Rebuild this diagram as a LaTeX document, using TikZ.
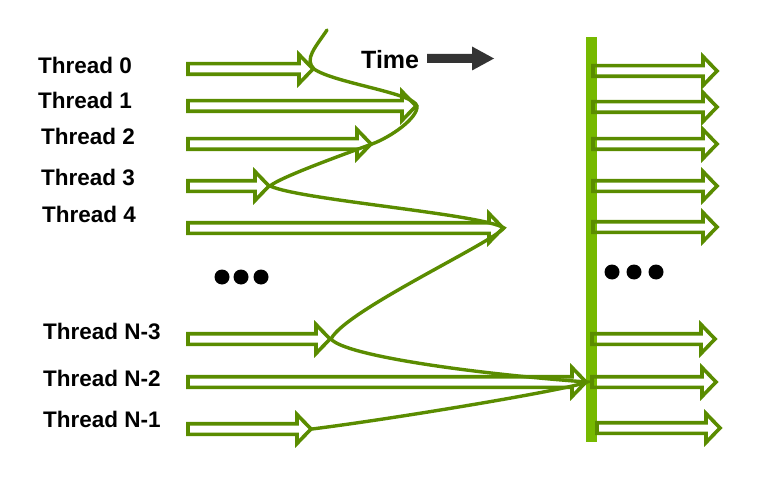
\documentclass[tikz,border=0pt]{standalone}
\usepackage{fontspec}
\setmainfont{Liberation Sans}

\definecolor{arrowGreen}{RGB}{90,140,0}
\definecolor{barGreen}{RGB}{118,185,0}
\definecolor{timeGrey}{RGB}{51,51,51}

\def\shaftHalf{5.3}
\def\headHalf{14.5}
\def\headLen{14}

\tikzset{
    threadarrow/.style = {draw = arrowGreen, line width = 3.6pt, fill = white},
    threadlabel/.style = {anchor = west, inner sep = 0pt, font = \fontsize{22.5}{26}\selectfont\bfseries},
    wave/.style = {draw = arrowGreen, line width = 3.4pt, line cap = round},
    dotmark/.style = {fill = black, circle, minimum size = 15pt, inner sep = 0pt}
}

% hollow block arrow: tail x, centre y, tip x
\newcommand{\blockArrow}[4][threadarrow]{%
    \path [#1]
    (#2,{#3-\shaftHalf}) -- ({#4-\headLen},{#3-\shaftHalf})
    -- ({#4-\headLen},{#3-\headHalf}) -- (#4,#3)
    -- ({#4-\headLen},{#3+\headHalf}) -- ({#4-\headLen},{#3+\shaftHalf})
    -- (#2,{#3+\shaftHalf}) -- cycle;
}

\begin{document}
\begin{tikzpicture}[x = 1pt, y = 1pt]
            \useasboundingbox (0,0) rectangle (759,496);

            % labels
            \foreach \lx/\ly/\txt [count = \i] in {38/431/Thread 0, 38/396/Thread 1,
                41/360/Thread 2, 41/319/Thread 3, 42/282/Thread 4,
                43/165/Thread N-3, 43/118/Thread N-2, 43/77/Thread N-1}
            \node [threadlabel] (label\i) at (\lx,\ly) {\txt};

            \node [threadlabel, font = \fontsize{25}{28}\selectfont\bfseries]
            (time) at (361,436) {Time};
            \path [fill = timeGrey]
            (427,{437.5-4.5}) -- (472,{437.5-4.5}) -- (472,{437.5-12}) -- (494,437.5)
            -- (472,{437.5+12}) -- (472,{437.5+4.5}) -- (427,{437.5+4.5}) -- cycle;

            % barrier
            \foreach \ry/\rtail/\rtip in {425/593/717, 389/593/717, 352/593/717, 310/593/717,
                269/593/717, 157/592/715, 114/592/716, 68/597/720}
            \blockArrow[fill = white]{\rtail}{\ry}{\rtip};
            \fill [barGreen] (586,54) rectangle (597,459) coordinate (barTop);
            \foreach \ry/\rtail/\rtip in {425/593/717, 389/593/717, 352/593/717, 310/593/717,
                269/593/717, 157/592/715, 114/592/716, 68/597/720}
            \blockArrow[threadarrow, fill = none]{\rtail}{\ry}{\rtip};

            % threads before the barrier
            \foreach \ty/\ttip [count = \i from 0] in {427/313, 390/416, 352/371, 310/269,
                268/503, 157/330, 114/586, 67/311}
            {
                \blockArrow{188}{\ty}{\ttip}
                \coordinate (tip\i) at ({\ttip+1},\ty);
            }

            \draw [wave]
            (327,466) coordinate (waveStart)
            .. controls +(-12,-18) and +(-10,10) .. (tip0)
            .. controls +(20,-14) and +(-3,13) .. (tip1)
            .. controls +(1,-12) and +(19,7) .. (tip2)
            .. controls +(-19,-7) and +(10,9) .. (tip3)
            .. controls +(30,-14) and +(-22,14) .. (tip4)
            .. controls +(-14,-16) and +(14,28) .. (tip5)
            .. controls +(14,-17) and +(-110,8) .. (tip6)
            .. controls +(-20,-8) and +(80,10) .. (tip7)
            ;

            % dots
            \foreach \dx/\dy [count = \i] in {222/219, 241/219, 261/219, 612/224, 634/224, 656/224}
            \node [dotmark] (dot\i) at (\dx,\dy) {};
        \end{tikzpicture}
\end{document}
